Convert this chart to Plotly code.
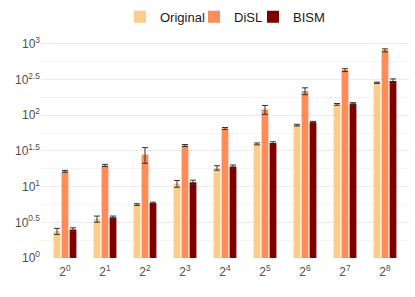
import plotly.graph_objects as go

categories = ["2<sup>0</sup>", "2<sup>1</sup>", "2<sup>2</sup>", "2<sup>3</sup>", "2<sup>4</sup>",
              "2<sup>5</sup>", "2<sup>6</sup>", "2<sup>7</sup>", "2<sup>8</sup>"]

original = [2.37, 3.52, 5.61, 11.0, 18.3, 39.7, 72.6, 142, 285]
original_err = [0.23, 0.35, 0.15, 1.2, 1.3, 1.2, 2.0, 4.0, 6.0]

disl = [16.4, 19.8, 28.2, 37.7, 65.3, 120, 218, 429, 811]
disl_err = [0.5, 0.7, 7.0, 1.2, 2.0, 17, 24, 20, 40]

bism = [2.50, 3.72, 5.91, 11.5, 19.1, 41.0, 80, 146, 301]
bism_err = [0.15, 0.15, 0.15, 0.8, 1.0, 1.5, 2.0, 4.0, 22]

series = [
    ("Original", original, original_err, "#FDCC8A"),
    ("DiSL", disl, disl_err, "#FC8D59"),
    ("BISM", bism, bism_err, "#7F0000"),
]

ytick_vals = [10 ** (i / 2) for i in range(7)]
ytick_text = ["10<sup>0</sup>", "10<sup>0.5</sup>", "10<sup>1</sup>", "10<sup>1.5</sup>",
              "10<sup>2</sup>", "10<sup>2.5</sup>", "10<sup>3</sup>"]
yminor_vals = [10 ** (0.25 + i / 2) for i in range(6)]

L, R, T, B = 41, 6, 36, 39
W, H = 415, 297
pw = W - L - R
ph = H - T - B

legend_ids = ["legend", "legend2", "legend3"]
legend_text_px = [160, 234, 293]

fig = go.Figure()
for (name, vals, errs, color), lid in zip(series, legend_ids):
    fig.add_trace(go.Bar(
        x=categories, y=vals, name=name, legend=lid,
        marker=dict(color=color, line=dict(width=0)),
        error_y=dict(type="data", array=errs, visible=True,
                     color="#333333", thickness=1, width=3),
    ))

legend_layout = {}
for lid, tx in zip(legend_ids, legend_text_px):
    legend_layout[lid] = dict(
        orientation="h", x=(tx - 40 - L) / pw, xanchor="left",
        y=1 + (T - 16.7) / ph, yanchor="middle",
        font=dict(size=13, color="#1A1A1A"), itemwidth=30,
        bgcolor="rgba(0,0,0,0)", borderwidth=0,
    )

fig.update_layout(
    width=W, height=H,
    margin=dict(l=L, r=R, t=T, b=B, autoexpand=False),
    paper_bgcolor="white", plot_bgcolor="white",
    barmode="group", bargap=0.4, bargroupgap=0.15,
    font=dict(family="Liberation Sans, Arial, sans-serif", size=12, color="#4D4D4D"),
    showlegend=True,
    xaxis=dict(range=[-0.6, 8.6], showgrid=False, zeroline=False, showline=False,
               ticks="outside", ticklen=3, tickcolor="rgba(0,0,0,0)",
               automargin=False, tickfont=dict(size=12, color="#4D4D4D")),
    yaxis=dict(type="log", range=[0, 3.11], tickvals=ytick_vals, ticktext=ytick_text,
               showgrid=True, gridcolor="#EBEBEB", gridwidth=1, zeroline=False,
               showline=False, ticks="", automargin=False,
               tickfont=dict(size=12, color="#4D4D4D"),
               minor=dict(tickvals=yminor_vals, showgrid=True, gridcolor="#F3F3F3",
                          gridwidth=0.6, ticks="")),
    **legend_layout,
)

fig.write_html("out.html", config={"displayModeBar": False},
               post_script="document.body.style.margin='0';document.body.style.overflow='hidden';")
